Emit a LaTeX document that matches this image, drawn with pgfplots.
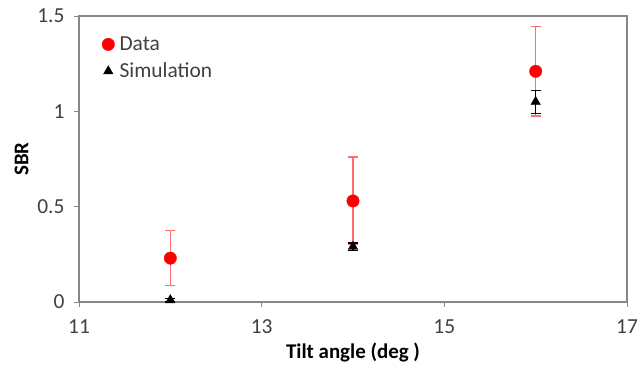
\documentclass[border=0pt]{standalone}
\usepackage{fontspec}
\setmainfont{Carlito}
\usepackage{pgfplots}
\pgfplotsset{compat=1.18}
\definecolor{axisgray}{RGB}{134,134,134}
\definecolor{ticktext}{RGB}{64,64,64}
\definecolor{datared}{RGB}{255,0,0}
\definecolor{barred}{RGB}{255,110,110}
\begin{document}
\begin{tikzpicture}
% fixed frame around the axis box (axis box sits at the origin)
\path[use as bounding box] (-79bp,-69bp) rectangle (560bp,302bp);
\begin{axis}[
  at={(0,0)}, anchor=south west,
  scale only axis,
  width=548bp, height=286bp,
  xmin=11, xmax=17, ymin=0, ymax=1.5,
  xtick={11,13,15,17},
  ytick={0,0.5,1,1.5},
  xtick pos=bottom, ytick pos=left,
  /pgf/number format/assume math mode=true,
  tick label style={font=\fontsize{21.5}{25}\selectfont, color=ticktext},
  axis line style={axisgray, line width=1.2pt},
  tick style={axisgray, line width=0.8pt},
  tick align=outside,
  major tick length=5bp,
  xticklabel style={yshift=-9bp},
  yticklabel style={xshift=-6bp},
  xlabel={\textbf{Tilt angle (deg )}},
  ylabel={\textbf{SBR}},
  label style={font=\fontsize{21}{25}\selectfont},
  xlabel style={yshift=-3bp},
  ylabel style={yshift=2bp},
  legend style={at={(0.04,0.935)}, anchor=north west, draw=none, fill=none,
    font=\fontsize{21.5}{25}\selectfont, text=ticktext, row sep=9bp,
    inner sep=1bp, nodes={inner xsep=5bp, inner ysep=1bp}},
  legend cell align=left,
]
\addplot[only marks, mark=*, mark size=6.2bp, color=datared,
  error bars/.cd, y dir=both, y explicit,
  error bar style={barred, line width=1.3pt},
  error mark options={rotate=90, mark size=5bp, barred, line width=1.3pt}]
  coordinates {
    (12,0.23) +- (0,0.145)
    (14,0.53) +- (0,0.23)
    (16,1.21) +- (0,0.235)
  };
\addlegendentry{Data}
\addplot[only marks, mark=triangle*, mark size=5.5bp, color=black,
  error bars/.cd, y dir=both, y explicit,
  error bar style={black, line width=1.3pt},
  error mark options={rotate=90, mark size=5bp, black, line width=1.3pt}]
  coordinates {
    (12,0.01) +- (0,0.01)
    (14,0.29) +- (0,0.02)
    (16,1.05) +- (0,0.06)
  };
\addlegendentry{Simulation}
\end{axis}
\end{tikzpicture}
\end{document}
